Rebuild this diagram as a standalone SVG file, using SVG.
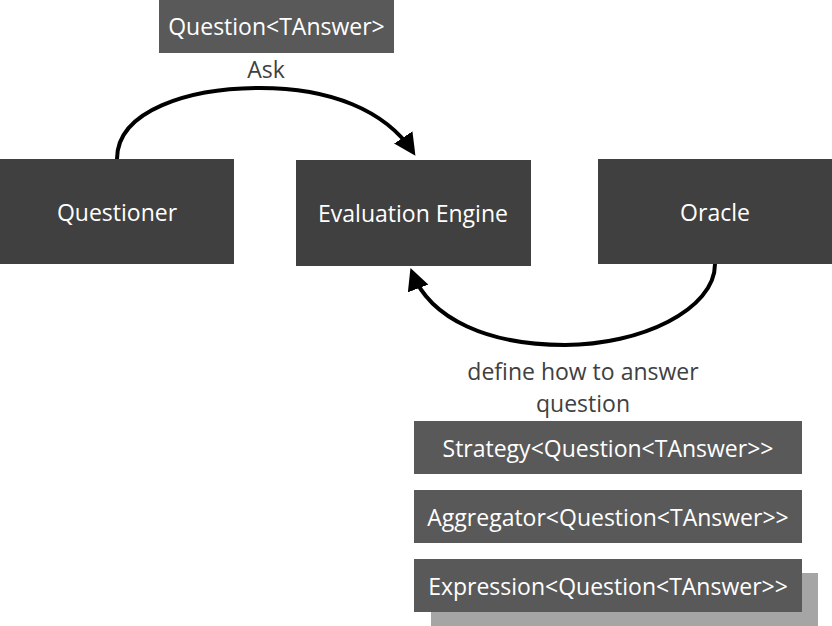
<svg xmlns="http://www.w3.org/2000/svg" width="832" height="626" viewBox="0 0 832 626">
<style>
.node{fill:#404040}
.tag{fill:#595959}
.wt{fill:#ffffff;font-family:"Open Sans","Noto Sans",sans-serif;font-size:23px;text-anchor:middle;dominant-baseline:central}
.lbl{fill:#404040;font-family:"Open Sans","Noto Sans",sans-serif;font-size:23px;text-anchor:middle}
.conn{fill:none;stroke:#000;stroke-width:4}
</style>
<defs>
<marker id="ah" viewBox="0 0 10 10" refX="8" refY="5" markerWidth="5.5" markerHeight="5.5" orient="auto" markerUnits="strokeWidth">
<path d="M0,0 L10,5 L0,10 z" fill="#000"/>
</marker>
</defs>
<g id="question-tag"><rect class="tag" x="159" y="0" width="235" height="53"/><text class="wt" x="276.5" y="26">Question&lt;TAnswer&gt;</text></g>
<g id="questioner"><rect class="node" x="0" y="159" width="234" height="105"/><text class="wt" x="117" y="212">Questioner</text></g>
<g id="engine"><rect class="node" x="296" y="160" width="235" height="106"/><text class="wt" x="413" y="213">Evaluation Engine</text></g>
<g id="oracle"><rect class="node" x="598" y="159" width="234" height="105"/><text class="wt" x="715" y="212">Oracle</text></g>
<g id="shadow"><rect x="431" y="573" width="387" height="53" fill="#a5a5a5"/></g>
<g id="strategy"><rect class="tag" x="414" y="421" width="388" height="53"/><text class="wt" x="608" y="448">Strategy&lt;Question&lt;TAnswer&gt;&gt;</text></g>
<g id="aggregator"><rect class="tag" x="414" y="490" width="388" height="53"/><text class="wt" x="608" y="517">Aggregator&lt;Question&lt;TAnswer&gt;&gt;</text></g>
<g id="expression"><rect class="tag" x="414" y="559" width="388" height="53"/><text class="wt" x="608" y="586">Expression&lt;Question&lt;TAnswer&gt;&gt;</text></g>
<g id="connectors">
<path class="conn" d="M117,159 C117,110 190,88 260,88 C330,88 385,110 413,152" marker-end="url(#ah)"/>
<path class="conn" d="M715,264 C715,310 640,345 565,345 C490,345 430,320 412,272" marker-end="url(#ah)"/>
</g>
<text class="lbl" x="266" y="78">Ask</text>
<text class="lbl" x="583" y="380">define how to answer</text>
<text class="lbl" x="583" y="412">question</text>
</svg>
